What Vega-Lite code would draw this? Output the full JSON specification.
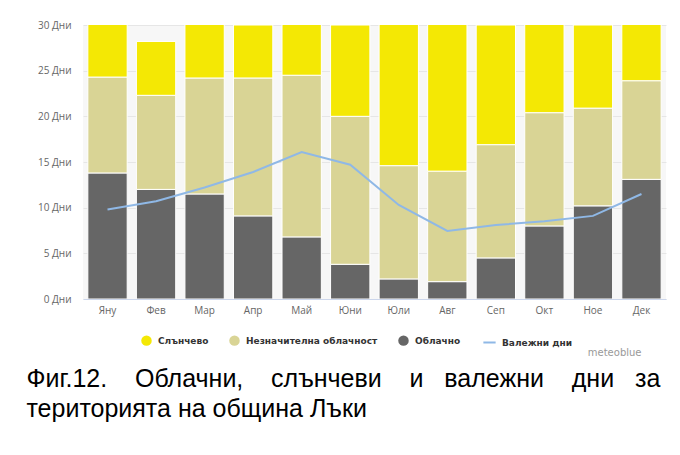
{
  "$schema": "https://vega.github.io/schema/vega-lite/v6.json",
  "width": 583,
  "height": 274,
  "padding": {"top": 20, "left": 26, "right": 15, "bottom": 5},
  "background": "white",
  "view": {"fill": "#f7f7f7", "stroke": null},
  "title": {
    "text": ["Фиг.12.\u00a0\u00a0\u00a0\u00a0Облачни,\u00a0\u00a0\u00a0\u00a0слънчеви\u00a0\u00a0\u00a0\u00a0и\u00a0\u00a0\u00a0валежни\u00a0\u00a0\u00a0\u00a0дни\u00a0\u00a0\u00a0за", "територията на община Лъки"],
    "orient": "bottom",
    "anchor": "start",
    "frame": "bounds",
    "font": "Liberation Sans",
    "fontSize": 25,
    "fontWeight": "normal",
    "color": "#000000",
    "lineHeight": 30,
    "offset": 10,
    "dx": -11
  },
  "datasets": {
    "bars": [
      {"month": "Яну", "type": "Облачно", "days": 13.8, "ord": 1},
      {"month": "Яну", "type": "Незначителна облачност", "days": 10.5, "ord": 2},
      {"month": "Яну", "type": "Слънчево", "days": 6.7, "ord": 3},
      {"month": "Фев", "type": "Облачно", "days": 12.0, "ord": 1},
      {"month": "Фев", "type": "Незначителна облачност", "days": 10.3, "ord": 2},
      {"month": "Фев", "type": "Слънчево", "days": 5.9, "ord": 3},
      {"month": "Мар", "type": "Облачно", "days": 11.5, "ord": 1},
      {"month": "Мар", "type": "Незначителна облачност", "days": 12.7, "ord": 2},
      {"month": "Мар", "type": "Слънчево", "days": 6.8, "ord": 3},
      {"month": "Апр", "type": "Облачно", "days": 9.1, "ord": 1},
      {"month": "Апр", "type": "Незначителна облачност", "days": 15.1, "ord": 2},
      {"month": "Апр", "type": "Слънчево", "days": 5.8, "ord": 3},
      {"month": "Май", "type": "Облачно", "days": 6.8, "ord": 1},
      {"month": "Май", "type": "Незначителна облачност", "days": 17.7, "ord": 2},
      {"month": "Май", "type": "Слънчево", "days": 6.5, "ord": 3},
      {"month": "Юни", "type": "Облачно", "days": 3.8, "ord": 1},
      {"month": "Юни", "type": "Незначителна облачност", "days": 16.2, "ord": 2},
      {"month": "Юни", "type": "Слънчево", "days": 10.0, "ord": 3},
      {"month": "Юли", "type": "Облачно", "days": 2.2, "ord": 1},
      {"month": "Юли", "type": "Незначителна облачност", "days": 12.4, "ord": 2},
      {"month": "Юли", "type": "Слънчево", "days": 16.4, "ord": 3},
      {"month": "Авг", "type": "Облачно", "days": 1.9, "ord": 1},
      {"month": "Авг", "type": "Незначителна облачност", "days": 12.1, "ord": 2},
      {"month": "Авг", "type": "Слънчево", "days": 17.0, "ord": 3},
      {"month": "Сеп", "type": "Облачно", "days": 4.5, "ord": 1},
      {"month": "Сеп", "type": "Незначителна облачност", "days": 12.4, "ord": 2},
      {"month": "Сеп", "type": "Слънчево", "days": 13.1, "ord": 3},
      {"month": "Окт", "type": "Облачно", "days": 8.0, "ord": 1},
      {"month": "Окт", "type": "Незначителна облачност", "days": 12.4, "ord": 2},
      {"month": "Окт", "type": "Слънчево", "days": 10.6, "ord": 3},
      {"month": "Ное", "type": "Облачно", "days": 10.2, "ord": 1},
      {"month": "Ное", "type": "Незначителна облачност", "days": 10.7, "ord": 2},
      {"month": "Ное", "type": "Слънчево", "days": 9.1, "ord": 3},
      {"month": "Дек", "type": "Облачно", "days": 13.1, "ord": 1},
      {"month": "Дек", "type": "Незначителна облачност", "days": 10.8, "ord": 2},
      {"month": "Дек", "type": "Слънчево", "days": 7.1, "ord": 3}
    ],
    "rain": [
      {"month": "Яну", "series": "Валежни дни", "days": 9.8},
      {"month": "Фев", "series": "Валежни дни", "days": 10.7},
      {"month": "Мар", "series": "Валежни дни", "days": 12.2},
      {"month": "Апр", "series": "Валежни дни", "days": 13.9},
      {"month": "Май", "series": "Валежни дни", "days": 16.1},
      {"month": "Юни", "series": "Валежни дни", "days": 14.7},
      {"month": "Юли", "series": "Валежни дни", "days": 10.3},
      {"month": "Авг", "series": "Валежни дни", "days": 7.45},
      {"month": "Сеп", "series": "Валежни дни", "days": 8.1},
      {"month": "Окт", "series": "Валежни дни", "days": 8.5},
      {"month": "Ное", "series": "Валежни дни", "days": 9.1},
      {"month": "Дек", "series": "Валежни дни", "days": 11.5}
    ]
  },
  "encoding": {
    "x": {
      "field": "month",
      "type": "nominal",
      "sort": ["Яну", "Фев", "Мар", "Апр", "Май", "Юни", "Юли", "Авг", "Сеп", "Окт", "Ное", "Дек"],
      "scale": {"paddingInner": 0.19, "paddingOuter": 0.1},
      "axis": {
        "title": "meteoblue",
        "titleFont": "DejaVu Sans",
        "titleFontSize": 10,
        "titleFontWeight": "normal",
        "titleColor": "#999999",
        "titleAlign": "right",
        "titleX": 558,
        "titleY": 56,
        "titleBaseline": "alphabetic",
        "labelAngle": 0,
        "labelFont": "Open Sans",
        "labelFontSize": 10,
        "labelColor": "#666666",
        "labelPadding": 6,
        "ticks": false,
        "domainColor": "#ccd6eb",
        "domainWidth": 1,
        "grid": false
      }
    }
  },
  "layer": [
    {
      "data": {"name": "bars"},
      "mark": {"type": "bar", "clip": true, "stroke": "#ffffff", "strokeWidth": 1},
      "encoding": {
        "y": {
          "field": "days",
          "type": "quantitative",
          "stack": "zero",
          "scale": {"domain": [0, 30], "nice": false},
          "axis": {
            "title": null,
            "values": [0, 5, 10, 15, 20, 25, 30],
            "labelExpr": "datum.value + ' Дни'",
            "labelFont": "Open Sans",
            "labelFontSize": 10,
            "labelColor": "#666666",
            "labelPadding": 12,
            "ticks": false,
            "domain": false,
            "grid": true,
            "gridColor": "#e6e6e6"
          }
        },
        "color": {
          "field": "type",
          "type": "nominal",
          "scale": {
            "domain": ["Слънчево", "Незначителна облачност", "Облачно"],
            "range": ["#f4e804", "#d9d495", "#666666"]
          },
          "legend": {
            "title": null,
            "orient": "none",
            "legendX": 58,
            "legendY": 310,
            "direction": "horizontal",
            "symbolType": "circle",
            "symbolSize": 110,
            "symbolStrokeWidth": 0,
            "labelFont": "DejaVu Sans",
            "labelFontSize": 9,
            "labelFontWeight": "bold",
            "labelColor": "#333333",
            "labelOffset": 6,
            "columnPadding": 20
          }
        },
        "order": {"field": "ord", "type": "quantitative"}
      }
    },
    {
      "data": {"name": "rain"},
      "mark": {"type": "line", "strokeWidth": 2},
      "encoding": {
        "y": {"field": "days", "type": "quantitative"},
        "stroke": {
          "field": "series",
          "type": "nominal",
          "scale": {"domain": ["Валежни дни"], "range": ["#8fb8e6"]},
          "legend": {
            "title": null,
            "orient": "none",
            "legendX": 399,
            "legendY": 310,
            "direction": "horizontal",
            "symbolType": "stroke",
            "symbolSize": 150,
            "symbolStrokeWidth": 2,
            "labelFont": "DejaVu Sans",
            "labelFontSize": 9,
            "labelFontWeight": "bold",
            "labelColor": "#333333",
            "labelOffset": 5
          }
        }
      }
    }
  ]
}
